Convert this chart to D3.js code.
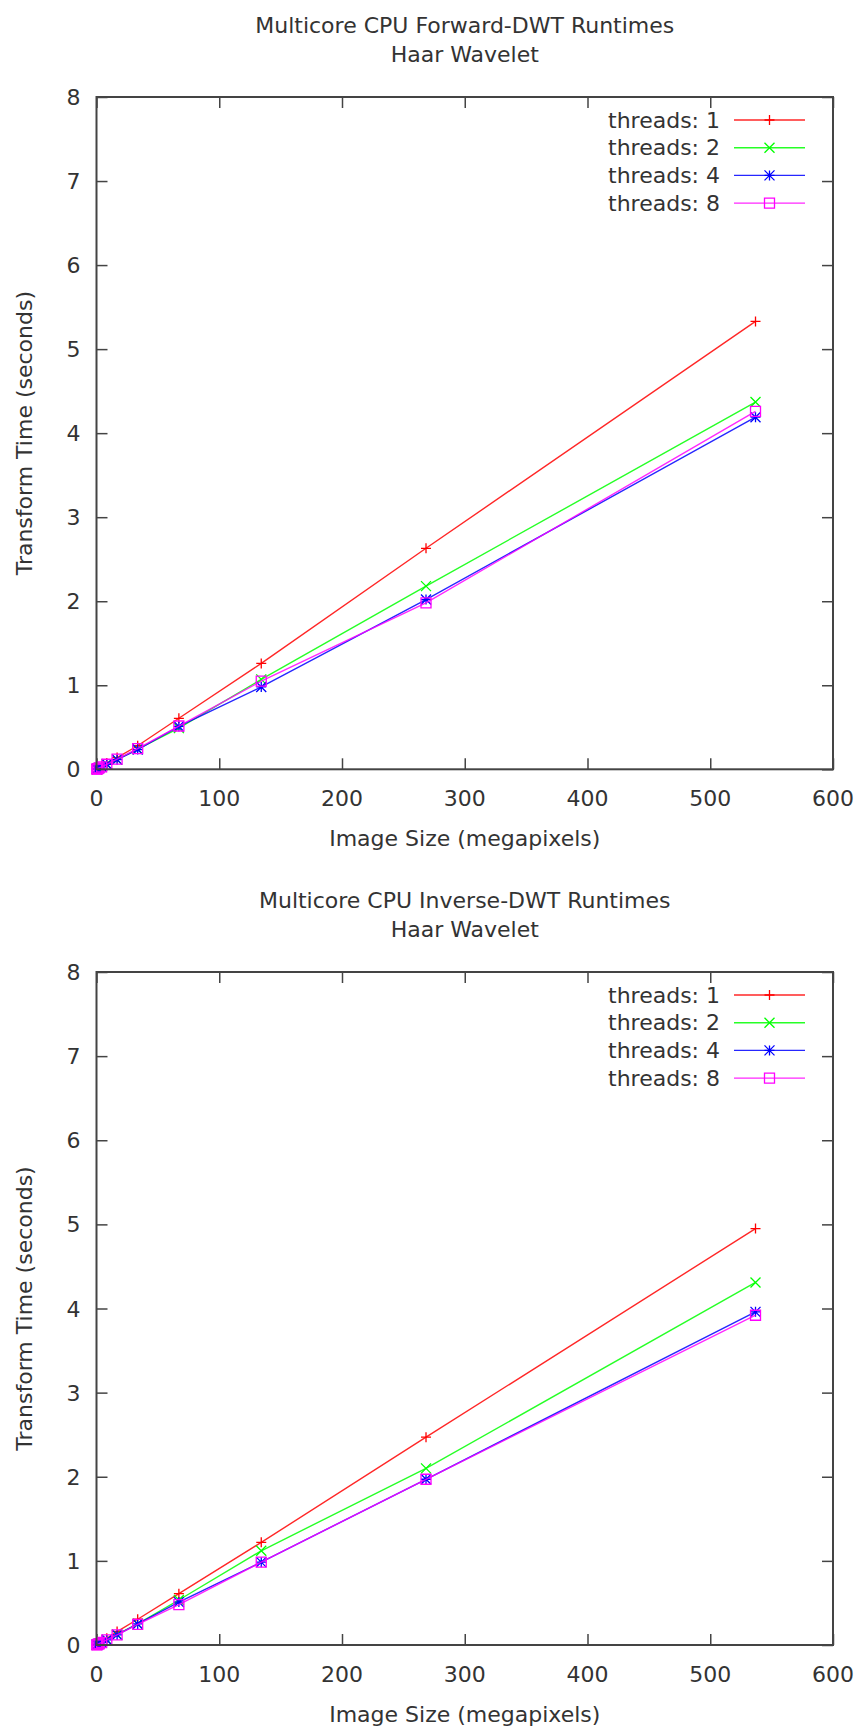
<!DOCTYPE html>
<html>
<head>
<meta charset="utf-8">
<script src="https://cdn.jsdelivr.net/npm/d3@7"></script>
<style>
  body { margin: 0; background: #fff; }
  text { font-family: "DejaVu Sans", sans-serif; fill: #333; }
</style>
</head>
<body>
<svg id="chart" width="863" height="1730"></svg>
<script>
// image sizes in megapixels (powers of two pixel counts)
const sizes = [0.26, 0.52, 1.05, 2.1, 4.19, 8.39, 16.78, 33.55, 67.11, 134.22, 268.44, 536.87];
const threadLabels = ["threads: 1", "threads: 2", "threads: 4", "threads: 8"];
const colors = ["#ff0000", "#00ff00", "#0000ff", "#ff00ff"];
const markers = ["plus", "cross", "star", "square"];

const fwd1 = [0.003, 0.005, 0.01, 0.019, 0.038, 0.075, 0.14, 0.28, 0.607, 1.26, 2.63, 5.33];
const fwd2 = [0.002, 0.004, 0.008, 0.015, 0.03, 0.06, 0.115, 0.24, 0.49, 1.07, 2.18, 4.37];
const fwd4 = [0.002, 0.004, 0.008, 0.015, 0.03, 0.06, 0.115, 0.235, 0.51, 0.98, 2.02, 4.19];
const fwd8 = [0.002, 0.004, 0.008, 0.016, 0.03, 0.06, 0.12, 0.245, 0.515, 1.05, 1.98, 4.26];

const inv1 = [0.003, 0.005, 0.01, 0.02, 0.04, 0.08, 0.16, 0.306, 0.61, 1.22, 2.47, 4.95];
const inv2 = [0.002, 0.004, 0.008, 0.016, 0.031, 0.062, 0.125, 0.25, 0.535, 1.12, 2.10, 4.31];
const inv4 = [0.002, 0.004, 0.008, 0.015, 0.03, 0.06, 0.12, 0.25, 0.51, 0.985, 1.97, 3.96];
const inv8 = [0.002, 0.004, 0.008, 0.015, 0.03, 0.06, 0.12, 0.245, 0.48, 0.985, 1.97, 3.92];

const xTicks = [0, 100, 200, 300, 400, 500, 600];
const yTicks = [0, 1, 2, 3, 4, 5, 6, 7, 8];

const svg = d3.select("svg#chart");
const left = 96.5, right = 833;
const fontSize = 22;
const tickLen = 11;

function markerPath(type) {
  const s = 5;
  if (type == "plus") return `M${-s},0H${s}M0,${-s}V${s}`;
  if (type == "cross") return `M${-s},${-s}L${s},${s}M${-s},${s}L${s},${-s}`;
  if (type == "star") return `M${-s},0H${s}M0,${-s}V${s}M${-s},${-s}L${s},${s}M${-s},${s}L${s},${-s}`;
  return `M${-s},${-s}H${s}V${s}H${-s}Z`;
}

function drawPanel(top, bottom, title, series) {
  const g = svg.append("g");
  const x = d3.scaleLinear().domain([0, 600]).range([left, right]);
  const y = d3.scaleLinear().domain([0, 8]).range([bottom, top]);

  // title
  g.append("text").attr("x", (left + right) / 2).attr("y", top - 64)
    .attr("text-anchor", "middle").style("font-size", fontSize + "px").text(title[0]);
  g.append("text").attr("x", (left + right) / 2).attr("y", top - 35)
    .attr("text-anchor", "middle").style("font-size", fontSize + "px").text(title[1]);

  // inward ticks on all four sides
  const axes = [
    [d3.axisBottom(x), `translate(0,${bottom})`, xTicks],
    [d3.axisTop(x), `translate(0,${top})`, xTicks],
    [d3.axisLeft(y), `translate(${left},0)`, yTicks],
    [d3.axisRight(y), `translate(${right},0)`, yTicks],
  ];
  axes.forEach(([ax, tr, ticks]) => {
    const a = g.append("g").attr("transform", tr)
      .call(ax.tickValues(ticks).tickSize(-tickLen).tickFormat(""));
    a.select(".domain").remove();
    a.selectAll(".tick line").attr("stroke", "#444").attr("stroke-width", 1.5);
  });

  // tick labels
  g.selectAll(".xlab").data(xTicks).enter().append("text")
    .attr("x", (d) => x(d)).attr("y", bottom + 37)
    .attr("text-anchor", "middle").style("font-size", fontSize + "px").text((d) => d);
  g.selectAll(".ylab").data(yTicks).enter().append("text")
    .attr("x", left - 16).attr("y", (d) => y(d) + 8)
    .attr("text-anchor", "end").style("font-size", fontSize + "px").text((d) => d);

  // axis labels
  g.append("text").attr("x", (left + right) / 2).attr("y", bottom + 77)
    .attr("text-anchor", "middle").style("font-size", fontSize + "px").text("Image Size (megapixels)");
  g.append("text").attr("transform", `translate(32,${(top + bottom) / 2}) rotate(-90)`)
    .attr("text-anchor", "middle").style("font-size", fontSize + "px").text("Transform Time (seconds)");

  // series
  const line = d3.line().x((d) => x(d[0])).y((d) => y(d[1]));
  series.forEach((vals, i) => {
    const pts = sizes.map((s, j) => [s, vals[j]]);
    g.append("path").datum(pts).attr("d", line)
      .attr("fill", "none").attr("stroke", colors[i]).attr("stroke-width", 1.4)
      .attr("stroke-opacity", 0.85);
    g.selectAll(".m" + i).data(pts).enter().append("path")
      .attr("transform", (d) => `translate(${x(d[0])},${y(d[1])})`)
      .attr("d", markerPath(markers[i]))
      .attr("fill", "none").attr("stroke", colors[i]).attr("stroke-width", 1.3);
  });

  // legend
  threadLabels.forEach((lab, i) => {
    const cy = top + 23 + i * 27.7;
    g.append("text").attr("x", 720).attr("y", cy + 7.5)
      .attr("text-anchor", "end").style("font-size", fontSize + "px").text(lab);
    g.append("line").attr("x1", 734).attr("x2", 805).attr("y1", cy).attr("y2", cy)
      .attr("stroke", colors[i]).attr("stroke-width", 1.4).attr("stroke-opacity", 0.85);
    g.append("path").attr("transform", `translate(769.5,${cy})`)
      .attr("d", markerPath(markers[i]))
      .attr("fill", "none").attr("stroke", colors[i]).attr("stroke-width", 1.3);
  });

  // frame
  g.append("rect").attr("x", left).attr("y", top)
    .attr("width", right - left).attr("height", bottom - top)
    .attr("fill", "none").attr("stroke", "#444").attr("stroke-width", 2);
}

drawPanel(97, 769.3, ["Multicore CPU Forward-DWT Runtimes", "Haar Wavelet"], [fwd1, fwd2, fwd4, fwd8]);
drawPanel(972, 1645, ["Multicore CPU Inverse-DWT Runtimes", "Haar Wavelet"], [inv1, inv2, inv4, inv8]);
</script>
</body>
</html>
